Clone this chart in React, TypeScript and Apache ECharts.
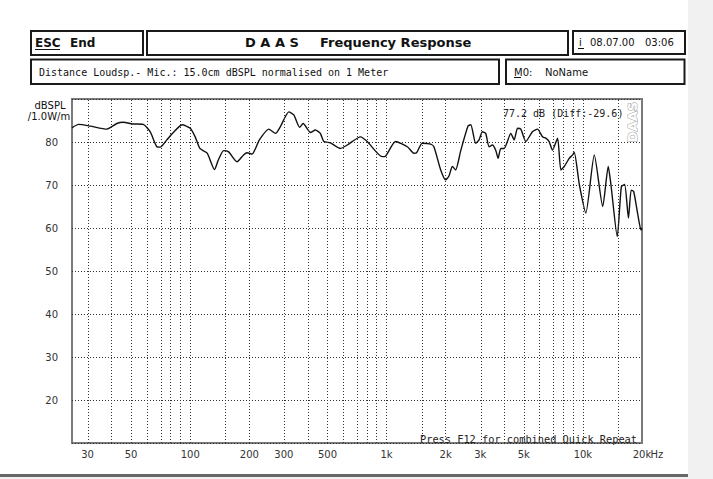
import React, { useEffect, useRef } from "react";
import * as echarts from "echarts";

// Frequency (Hz) and level (dBSPL)
const freqs = [
  25, 27, 31, 37.6, 42.3, 45.5, 51, 57.6, 62.5, 67.6, 70.3, 76, 82, 91, 100, 106, 112, 122, 133, 139,
  148, 157, 173, 187, 195, 207, 215, 225, 251, 272, 288, 318, 337, 361, 376, 410, 434, 460, 479, 518,
  582, 631, 737, 797, 950, 988, 1112, 1276, 1377, 1422, 1520, 1678, 1743, 1887, 2000, 2080, 2163, 2248,
  2387, 2600, 2685, 2845, 2958, 3078, 3199, 3327, 3461, 3598, 3698, 3818, 3970, 4295, 4466, 4645, 4830,
  5120, 5535, 5875, 6225, 6470, 6730, 7000, 7430, 7725, 8035, 8515, 8870, 9035, 9600, 10350, 11430,
  12620, 13460, 13900, 14960, 15700, 16320, 17060, 17620, 18140, 19000, 19770, 20000,
];
const levels = [
  83.3, 84.1, 83.7, 83.0, 84.3, 84.6, 84.2, 84.1, 82.4, 78.9, 78.8, 80.5, 82.2, 84.0, 83.2, 81.2, 78.5, 77.4, 73.6, 75.8,
  78.0, 77.7, 75.4, 77.0, 77.5, 77.2, 78.5, 80.5, 83.0, 82.0, 83.6, 87.0, 86.3, 83.4, 84.3, 82.2, 82.8, 82.0, 80.1, 79.8,
  78.5, 79.3, 81.2, 80.1, 76.6, 76.7, 80.1, 78.9, 77.4, 77.5, 79.7, 79.5, 78.9, 73.5, 71.2, 72.1, 74.3, 73.5,
  78.0, 83.7, 84.0, 79.7, 80.5, 82.4, 82.0, 78.9, 79.3, 78.1, 76.2, 78.5, 78.5, 82.0, 80.5, 83.2, 83.0,
  80.1, 82.4, 83.0, 81.2, 80.9, 80.1, 78.1, 80.9, 73.5, 74.3, 76.2, 77.0, 77.6, 70.0, 63.5, 77.0,
  65.0, 74.3, 70.0, 58.0, 69.6, 70.1, 62.3, 68.8, 68.5, 63.4, 59.5, 60.0,
];

const gridFreqs = [
  30, 40, 50, 60, 70, 80, 90, 100, 150, 200, 300, 400, 500, 600, 700, 800, 900, 1000, 1500, 2000,
  3000, 4000, 5000, 6000, 7000, 8000, 9000, 10000, 15000,
];
const labelFreqs = [30, 50, 100, 200, 300, 500, 1000, 2000, 3000, 5000, 10000, 20000];
const labelTexts = ["30", "50", "100", "200", "300", "500", "1k", "2k", "3k", "5k", "10k", "20k"];
const yShown = [20, 30, 40, 50, 60, 70, 80];

const F_MIN = 25;
const F_MAX = 20000;
const SANS = "DejaVu Sans";
const MONO = "DejaVu Sans Mono";

export default function App() {
  const ref = useRef<HTMLDivElement>(null);

  useEffect(() => {
    document.body.style.margin = "0";
    if (!ref.current) return;
    const chart = echarts.init(ref.current, null, { renderer: "svg" });

    const box = (x: number, y: number, w: number, h: number) => ({
      type: "rect",
      shape: { x, y, width: w, height: h },
      style: { fill: "none", stroke: "#1a1a1a", lineWidth: 2 },
      silent: true,
    });
    const txt = (x: number, y: number, text: string, font: string, extra: any = {}) => ({
      type: "text",
      x,
      y,
      style: { text, font, fill: "#111", textVerticalAlign: "middle", ...extra },
      silent: true,
    });
    const uline = (x1: number, x2: number, y: number) => ({
      type: "line",
      shape: { x1, y1: y, x2, y2: y },
      style: { stroke: "#111", lineWidth: 1 },
      silent: true,
    });

    chart.setOption({
      animation: false,
      backgroundColor: "#ffffff",
      grid: {
        left: 72,
        top: 99,
        width: 570,
        height: 344,
        show: true,
        borderColor: "#7a7a7a",
        borderWidth: 2,
        backgroundColor: "transparent",
      },
      xAxis: {
        type: "value",
        min: Math.log10(F_MIN),
        max: Math.log10(F_MAX),
        axisLine: { show: false },
        axisTick: { show: false },
        splitLine: { show: false },
        axisLabel: {
          customValues: labelFreqs.map((f) => Math.log10(f)),
          margin: 6,
          fontFamily: SANS,
          fontSize: 10,
          color: "#333",
          formatter: (v: number) => {
            const i = labelFreqs.findIndex((f) => Math.abs(Math.log10(f) - v) < 1e-6);
            return i >= 0 ? labelTexts[i] : "";
          },
        },
      },
      yAxis: {
        type: "value",
        min: 10,
        max: 90,
        interval: 10,
        axisLine: { show: false },
        axisTick: { show: false },
        splitLine: { show: true, lineStyle: { type: [1, 2], color: "#333", width: 1 } },
        axisLabel: {
          margin: 14,
          fontFamily: SANS,
          fontSize: 10,
          color: "#333",
          formatter: (v: number) => (yShown.indexOf(v) >= 0 ? String(v) : ""),
        },
      },
      series: [
        {
          type: "line",
          data: freqs.map((f, i) => [Math.log10(f), levels[i]]),
          showSymbol: false,
          smooth: 0.2,
          lineStyle: { color: "#111", width: 1.4 },
          markLine: {
            silent: true,
            symbol: "none",
            label: { show: false },
            lineStyle: { type: [1, 2], color: "#333", width: 1 },
            data: gridFreqs.map((f) => ({ xAxis: Math.log10(f) })),
          },
          z: 3,
        },
      ],
      graphic: [
        // surrounding strips
        { type: "rect", shape: { x: 688, y: 0, width: 25, height: 479 }, style: { fill: "#f1f1f1" }, silent: true },
        { type: "rect", shape: { x: 0, y: 474, width: 688, height: 3 }, style: { fill: "#666" }, silent: true },
        { type: "rect", shape: { x: 0, y: 477, width: 688, height: 2 }, style: { fill: "#f1f1f1" }, silent: true },
        // header boxes
        box(31, 31, 112, 24),
        box(147, 31, 421, 24),
        box(573, 31, 112, 23),
        box(31, 59.5, 468, 24.5),
        box(506, 59.5, 178.5, 24.5),
        // header texts
        txt(35, 42.5, "ESC", `bold 12px ${SANS}`),
        uline(35, 60, 49.5),
        txt(70, 42.5, "End", `bold 12px ${SANS}`),
        txt(245, 42.5, "D A A S", `bold 13px ${SANS}`),
        txt(320, 42.5, "Frequency Response", `bold 13px ${SANS}`),
        txt(579, 42.5, "i", `10px ${SANS}`),
        uline(578, 584, 48.5),
        txt(590, 42.5, "08.07.00", `10px ${SANS}`),
        txt(645, 42.5, "03:06", `10px ${SANS}`),
        txt(39, 72, "Distance Loudsp.- Mic.: 15.0cm dBSPL normalised on 1 Meter", `10px ${MONO}`),
        txt(514, 72, "M0:", `10px ${SANS}`),
        uline(514, 521, 77.5),
        txt(545, 72, "NoName", `10px ${SANS}`),
        // y-axis unit
        txt(50, 105, "dBSPL", `10px ${SANS}`, { textAlign: "center" }),
        txt(49, 116, "/1.0W/m", `10px ${SANS}`, { textAlign: "center" }),
        // x-axis unit suffix
        txt(650.5, 454, "Hz", `10px ${SANS}`, { fill: "#333" }),
        // in-plot texts
        txt(503, 113, "77.2 dB (Diff:-29.6)", `10px ${MONO}`, { fill: "#222" }),
        txt(420, 439, "Press F12 for combined Quick Repeat", `10.3px ${MONO}`, { fill: "#222" }),
        {
          type: "text",
          x: 632,
          y: 122,
          rotation: Math.PI / 2,
          style: {
            text: "DAAS",
            font: `bold 13px ${SANS}`,
            fill: "#ffffff",
            stroke: "#9a9a9a",
            lineWidth: 1,
            textAlign: "center",
            textVerticalAlign: "middle",
          },
          silent: true,
        },
      ],
    });

    return () => chart.dispose();
  }, []);

  return <div ref={ref} style={{ width: 713, height: 479, background: "#fff" }} />;
}
